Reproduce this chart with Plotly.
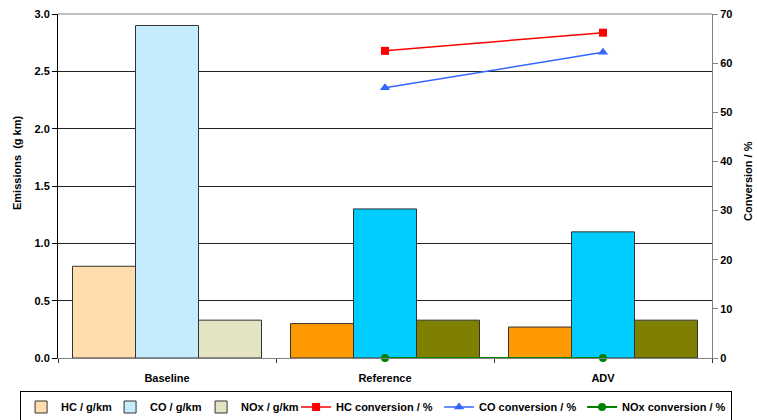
import plotly.graph_objects as go

categories = ["Baseline", "Reference", "ADV"]
hc_gkm = [0.80, 0.30, 0.27]
co_gkm = [2.90, 1.30, 1.10]
nox_gkm = [0.33, 0.33, 0.33]
hc_conv = [None, 62.5, 66.2]
co_conv = [None, 55.0, 62.2]
nox_conv = [None, 0.0, 0.0]

FONT = "Liberation Sans, Arial, sans-serif"
BOLD = dict(family=FONT, size=11, color="black", weight="bold")

fig = go.Figure()

def bar(name, vals, base_col, main_col, lw):
    fig.add_trace(go.Bar(
        name=name, x=categories, y=vals, legendwidth=lw,
        marker=dict(
            color=[base_col, main_col, main_col],
            line=dict(color="#333333", width=1),
        ),
        yaxis="y",
    ))

bar("HC / g/km", hc_gkm, "#FFDDAE", "#FF9900", 44)
bar("CO / g/km", co_gkm, "#C4ECFD", "#00CCFF", 46)
bar("NOx / g/km", nox_gkm, "#E4E4C4", "#808000", 50)

fig.add_trace(go.Scatter(name="HC conversion / %", x=categories, y=hc_conv, yaxis="y2",
                         legendwidth=98,
                         mode="lines+markers", line=dict(color="#FF0000", width=1.5),
                         marker=dict(symbol="square", size=8, color="#FF0000")))
fig.add_trace(go.Scatter(name="CO conversion / %", x=categories, y=co_conv, yaxis="y2",
                         legendwidth=98,
                         mode="lines+markers", line=dict(color="#3366FF", width=1.5),
                         marker=dict(symbol="triangle-up", size=9, color="#3366FF")))
fig.add_trace(go.Scatter(name="NOx conversion / %", x=categories, y=nox_conv, yaxis="y2",
                         legendwidth=104,
                         mode="lines+markers", line=dict(color="#008000", width=2),
                         marker=dict(symbol="circle", size=8, color="#008000"),
                         cliponaxis=False))

fig.update_layout(
    width=757, height=420,
    margin=dict(l=58, r=45, t=14, b=62, autoexpand=False),
    paper_bgcolor="white", plot_bgcolor="white",
    barmode="group", bargap=0.133, bargroupgap=0,
    font=dict(family=FONT, size=11, color="black"),
    xaxis=dict(showline=True, linecolor="#808080", linewidth=1, automargin=False,
               ticks="outside", tickson="boundaries", ticklen=4, tickcolor="#333",
               ticklabelstandoff=10,
               tickfont=BOLD, showgrid=False),
    yaxis=dict(range=[0, 3], dtick=0.5, tickformat=".1f", automargin=False,
               showline=True, linecolor="black", linewidth=1,
               ticks="outside", ticklen=5, tickcolor="black",
               showgrid=True, gridcolor="#222222", gridwidth=1,
               zeroline=False, tickfont=BOLD),
    yaxis2=dict(range=[0, 70], dtick=10, overlaying="y", side="right", automargin=False,
                showline=True, linecolor="#808080", linewidth=1,
                ticks="outside", ticklen=5, tickcolor="#808080",
                showgrid=False, zeroline=False, tickfont=BOLD),
    legend=dict(orientation="h", x=-0.058, xanchor="left",
                y=-0.1424, yanchor="middle",
                bordercolor="black", borderwidth=1, bgcolor="white",
                font=BOLD, itemwidth=30, tracegroupgap=0),
    annotations=[
        dict(text="Emissions  (g km)", xref="paper", yref="paper", x=(17 - 58) / 654,
             y=(358 - 163) / 344, textangle=-90, showarrow=False, font=BOLD,
             xanchor="center", yanchor="middle"),
        dict(text="Conversion / %", xref="paper", yref="paper", x=(748 - 58) / 654,
             y=(358 - 181) / 344, textangle=-90, showarrow=False, font=BOLD,
             xanchor="center", yanchor="middle"),
    ],
    shapes=[dict(type="line", xref="paper", yref="paper", x0=0, x1=1, y0=1, y1=1,
                 line=dict(color="#808080", width=1))],
)

fig.write_html("out.html", config={"displayModeBar": False},
               post_script="document.body.style.margin='0';")
